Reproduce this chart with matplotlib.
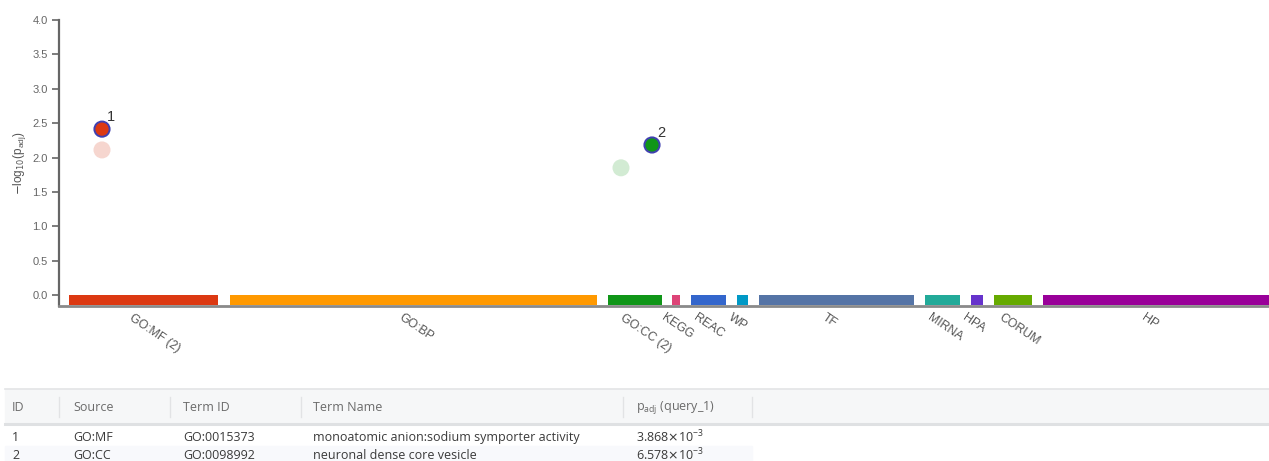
import matplotlib
matplotlib.use("Agg")
import numpy as np
import matplotlib.pyplot as plt
from matplotlib.patches import Rectangle

# ---- data -------------------------------------------------------------
sources = ["GO:MF (2)", "GO:BP", "GO:CC (2)", "KEGG", "REAC", "WP", "TF",
           "MIRNA", "HPA", "CORUM", "HP"]
source_start = [10, 171, 549, 613, 632, 678, 700, 866, 912, 935, 984]
source_end = [159, 538, 603, 621, 667, 689, 855, 901, 924, 973, 1210]
source_colors = ["#dc3912", "#ff9900", "#109618", "#dd4477", "#3366cc",
                 "#0099c6", "#5574a6", "#22aa99", "#6633cc", "#66aa00",
                 "#990099"]

# highlighted terms
term_ids = ["1", "2"]
term_pos = [43, 593]
term_padj = [3.868e-3, 6.578e-3]
term_colors = ["#dc3912", "#109618"]

# other (non-highlighted) significant terms
other_pos = [43, 562]
other_score = [2.11, 1.85]
other_colors = ["#f6d6cf", "#d2ebd3"]

# results table
table_header = ["ID", "Source", "Term ID", "Term Name",
                r"p$_{\mathregular{adj}}$ (query_1)"]
table_id = ["1", "2"]
table_source = ["GO:MF", "GO:CC"]
table_term_id = ["GO:0015373", "GO:0098992"]
table_term_name = ["monoatomic anion:sodium symporter activity",
                   "neuronal dense core vesicle"]
table_padj = [r"3.868$\times$10$^{\mathregular{-3}}$",
              r"6.578$\times$10$^{\mathregular{-3}}$"]

# ---- figure -----------------------------------------------------------
W, H = 1269, 461
fig = plt.figure(figsize=(W / 100, H / 100), dpi=100)
plt.rcParams["font.family"] = ["Liberation Sans", "DejaVu Sans"]


def fx(px):
    return px / W


def fy(py):
    return 1 - py / H


ax_left, ax_right = 59, 1269
ax_top, ax_bottom = 20, 306
ax = fig.add_axes([fx(ax_left), fy(ax_bottom), fx(ax_right - ax_left),
                   (ax_bottom - ax_top) / H])
ax.set_xlim(0, 1210)
ax.set_ylim(-0.16, 4.0)

for s in ["top", "right"]:
    ax.spines[s].set_visible(False)
ax.spines["left"].set_color("#666666")
ax.spines["left"].set_linewidth(1.6)
ax.spines["bottom"].set_color("#8a8a8a")
ax.spines["bottom"].set_linewidth(2.0)

ax.set_yticks(np.arange(0, 4.01, 0.5))
ax.set_yticklabels([f"{v:.1f}" for v in np.arange(0, 4.01, 0.5)])
ax.tick_params(axis="y", length=5, width=1.2, color="#666666",
               labelsize=8, labelcolor="#666666", pad=3)
ax.set_xticks([])

ax.set_ylabel(r"$-$log$_{10}$(p$_{\mathregular{adj}}$)", fontsize=8.5,
              color="#555555", labelpad=3)

# source bands along the x axis
widths = [e - s for s, e in zip(source_start, source_end)]
ax.bar(source_start, [0.15] * len(sources), width=widths, bottom=-0.15,
       align="edge", color=source_colors, linewidth=0, zorder=2)

# source labels, rotated under the bands
for name, s, e in zip(sources, source_start, source_end):
    c = (s + e) / 2
    ax.annotate(name, xy=(c, -0.16), xycoords="data",
                xytext=(-10, -6), textcoords="offset pixels",
                rotation=-34, rotation_mode="anchor", ha="left", va="top",
                fontsize=8.8, color="#555555")

# faded terms
ax.scatter(other_pos, other_score, s=150, c=other_colors, linewidths=0,
           zorder=3)

# highlighted terms
term_score = [-np.log10(p) for p in term_padj]
ax.scatter(term_pos, term_score, s=120, c=term_colors,
           edgecolors="#4040b0", linewidths=1.4, zorder=4)
for tid, x, y in zip(term_ids, term_pos, term_score):
    ax.annotate(tid, xy=(x, y), xytext=(5, 5), textcoords="offset pixels",
                fontsize=10.5, color="#333333", ha="left", va="bottom")

# ---- results table ----------------------------------------------------
tfont = ["Open Sans", "DejaVu Sans"]
fig.patches.append(Rectangle((fx(5), fy(424)), fx(W - 5), (424 - 389) / H,
                             transform=fig.transFigure, color="#f6f7f8",
                             zorder=0))
fig.add_artist(plt.Line2D([fx(5), 1], [fy(388.5)] * 2, color="#e3e4e6",
                          lw=1.2, transform=fig.transFigure))
fig.add_artist(plt.Line2D([fx(5), 1], [fy(424)] * 2, color="#dfe1e3",
                          lw=2.2, transform=fig.transFigure))
fig.patches.append(Rectangle((fx(5), 0), fx(752 - 5), (461 - 446) / H,
                             transform=fig.transFigure, color="#f8f9fc",
                             zorder=0))
for sx in [59, 170, 301, 623, 752]:
    fig.add_artist(plt.Line2D([fx(sx)] * 2, [fy(397), fy(417)],
                              color="#e2e3e5", lw=1.0,
                              transform=fig.transFigure))

col_x = [12, 73, 183, 313, 636]
for x, h in zip(col_x, table_header):
    fig.text(fx(x), fy(407), h, fontsize=9, color="#6b6b6b",
             ha="left", va="center", family=tfont)

rows = list(zip(table_id, table_source, table_term_id, table_term_name,
                table_padj))
for i, row in enumerate(rows):
    ypx = 437 + 18 * i
    for x, txt in zip(col_x, row):
        fig.text(fx(x), fy(ypx), txt, fontsize=9, color="#3a3a3a",
                 ha="left", va="center", family=tfont)

fig.savefig("out.png", dpi=100)
